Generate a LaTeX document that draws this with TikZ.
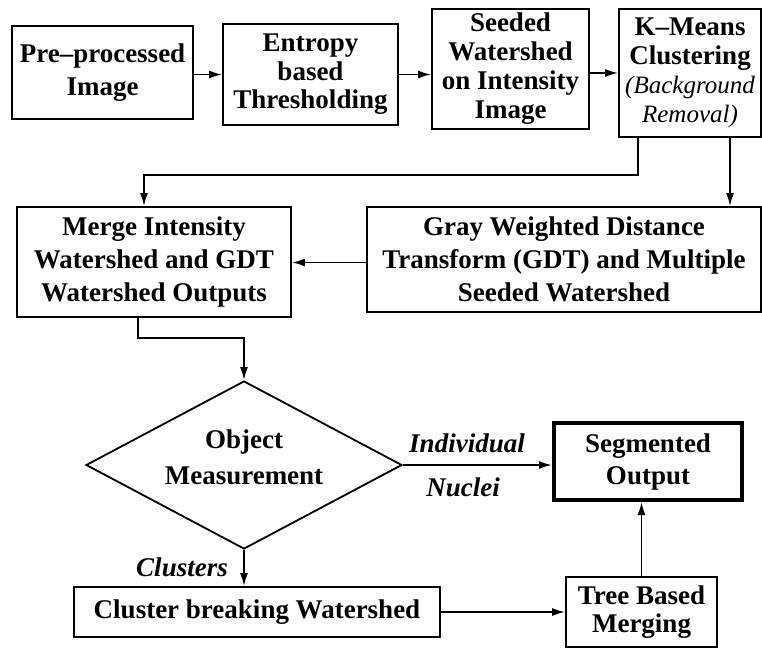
\documentclass[tikz,border=0pt]{standalone}
\usepackage{fontspec}
\setmainfont{Liberation Serif}
\usetikzlibrary{arrows.meta,shapes.geometric}
\begin{document}
\begin{tikzpicture}[x=1pt,y=-1pt,
  box/.style={draw,line width=1.8pt,inner sep=0pt,align=center},
  bf/.style={font=\bfseries\fontsize{27}{#1}\selectfont},
  arr/.style={line width=1.8pt,-{Latex[length=13pt,width=8pt]}},
  lab/.style={inner sep=0pt,font=\bfseries\itshape\fontsize{27}{30}\selectfont}]
\useasboundingbox (0,0) rectangle (762,648);
% top row
\node[box,bf=33,minimum width=181pt,minimum height=93pt] (pre) at (102.5,72.5) {Pre--processed\\Image};
\node[box,bf=28.5,minimum width=175pt,minimum height=101pt] (ent) at (310.5,74.5) {Entropy\\based\\Thresholding};
\node[box,bf=29,minimum width=157pt,minimum height=120pt] (seed) at (510.5,69) {Seeded\\Watershed\\on Intensity\\Image};
\node[box,bf=29,minimum width=142pt,minimum height=128pt] (km) at (690,73)
  {K--Means\\Clustering\\{\mdseries\itshape\fontsize{25}{29}\selectfont (Background}\\{\mdseries\itshape\fontsize{25}{29}\selectfont Removal)}};
% second row
\node[box,bf=33,minimum width=394pt,minimum height=105pt] (gdt) at (564,259.5)
  {Gray Weighted Distance\\Transform (GDT) and Multiple\\Seeded Watershed};
\node[box,bf=33,minimum width=274pt,minimum height=110pt] (merge) at (154,262)
  {Merge Intensity\\Watershed and GDT\\Watershed Outputs};
% decision
\node[draw,line width=1.8pt,diamond,shape aspect=1.88,inner sep=0pt,minimum width=316pt,minimum height=168pt] (obj) at (244,465) {};
\node[align=center,inner sep=0pt,bf=36] (objtxt) at (244,457) {Object\\Measurement};
\node[box,line width=4pt,bf=32,minimum width=188pt,minimum height=77pt] (seg) at (648,461.5) {Segmented\\Output};
\node[box,bf=30,minimum width=366pt,minimum height=50pt] (clus) at (257,612) {Cluster breaking Watershed};
\node[box,bf=28,minimum width=151pt,minimum height=70pt] (tree) at (641.5,612) {Tree Based\\Merging};
% labels
\node[lab] (indiv) at (467,443) {Individual};
\node[lab] (nuc) at (463,487) {Nuclei};
\node[lab] (clst) at (182,567) {Clusters};
% connectors
\coordinate (k1) at (638,175);
\coordinate (m1) at (138,338);
\draw[arr] (pre.east |- ent.west) -- (ent.west);
\draw[arr] (ent.east) -- (ent.east -| seed.west);
\draw[arr] (seed.east |- km.west) -- (km.west);
\draw[arr] (km.south -| k1) -- (k1) -| ([xshift=-10pt]merge.north);
\draw[arr] ([xshift=40pt]km.south) -- ([xshift=40pt]km.south |- gdt.north);
\draw[arr] ([yshift=-3pt]gdt.west) -- ([yshift=-3pt]gdt.west -| merge.east);
\draw[arr] (merge.south -| m1) -- (m1) -| (obj.north);
\draw[arr] (obj.east) -- (obj.east -| seg.west);
\draw[arr] (obj.south) -- (obj.south |- clus.north);
\draw[arr] (clus.east) -- (tree.west);
\draw[arr] (tree.north) -- (tree.north |- seg.south);
\end{tikzpicture}
\end{document}
